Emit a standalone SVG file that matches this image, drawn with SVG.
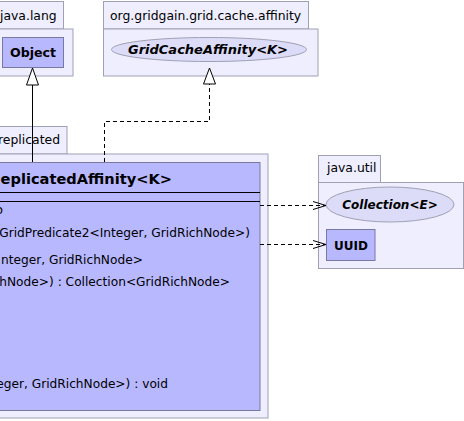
<svg xmlns="http://www.w3.org/2000/svg" width="464" height="421" viewBox="0 0 464 421">
<style>
.pkg{fill:#eeeeff;stroke:#a0a0b4;stroke-width:1}
.cls{fill:#b8b8ff;stroke:#7878a0;stroke-width:1}
.ell{fill:#dcdcf8;stroke:#a0a0b4;stroke-width:1}
.t{font-family:"DejaVu Sans",sans-serif;font-size:12.2px;fill:#000}
.p{font-family:"DejaVu Sans",sans-serif;font-size:12.4px;fill:#000}
.b{font-family:"DejaVu Sans",sans-serif;font-size:12px;font-weight:bold;fill:#000}
.bi{font-family:"DejaVu Sans",sans-serif;font-size:12px;font-weight:bold;font-style:italic;fill:#000}
.ttl{font-family:"DejaVu Sans",sans-serif;font-size:14.6px;font-weight:bold;fill:#000}
.sol{fill:none;stroke:#000;stroke-width:1}
.dash{fill:none;stroke:#000;stroke-width:1;stroke-dasharray:4,3}
</style>
<defs>
<marker id="open" markerWidth="14" markerHeight="10" refX="13" refY="5" orient="auto" markerUnits="userSpaceOnUse">
<path d="M0,1 L13,5 L0,9" fill="none" stroke="#000" stroke-width="1"/>
</marker>
</defs>
<g id="pkg-java-lang">
<rect class="pkg" x="-10" y="1.5" width="73.5" height="27.5"/>
<rect class="pkg" x="-10" y="29" width="83" height="47"/>
<text class="p" x="0" y="20">java.lang</text>
</g>
<g id="Object">
<rect class="cls" x="2.5" y="37.5" width="61" height="30"/>
<text class="b" x="33" y="57" text-anchor="middle" style="font-size:12.6px">Object</text>
</g>
<g id="pkg-affinity">
<rect class="pkg" x="103.5" y="1.5" width="205" height="27.5"/>
<rect class="pkg" x="103.5" y="29" width="214.5" height="47"/>
<text class="p" x="110" y="20">org.gridgain.grid.cache.affinity</text>
</g>
<g id="GridCacheAffinity">
<ellipse class="ell" cx="209" cy="49.5" rx="97.5" ry="12"/>
<text class="bi" x="208" y="54" text-anchor="middle" style="font-size:13px">GridCacheAffinity&lt;K&gt;</text>
</g>
<g id="pkg-replicated">
<rect class="pkg" x="-10" y="126.5" width="77" height="27.5"/>
<rect class="pkg" x="-10" y="154" width="278" height="264"/>
<text class="p" x="60" y="144" text-anchor="end">replicated</text>
</g>
<g id="GridCacheReplicatedAffinity">
<rect class="cls" x="-10" y="162.5" width="270" height="248"/>
<text class="ttl" x="172" y="184" text-anchor="end">eplicatedAffinity&lt;K&gt;</text>
<line class="sol" x1="-10" y1="192.5" x2="260" y2="192.5"/>
<line class="sol" x1="-10" y1="201.5" x2="260" y2="201.5"/>
<text class="t" x="3" y="214" text-anchor="end">o</text>
<text class="t" x="250" y="237" text-anchor="end">GridPredicate2&lt;Integer, GridRichNode&gt;)</text>
<text class="t" x="1" y="264">nteger, GridRichNode&gt;</text>
<text class="t" x="230" y="286" text-anchor="end">chNode&gt;) : Collection&lt;GridRichNode&gt;</text>
<text class="t" x="168" y="388" text-anchor="end">eger, GridRichNode&gt;) : void</text>
</g>
<g id="pkg-java-util">
<rect class="pkg" x="318.5" y="155.5" width="62" height="27"/>
<rect class="pkg" x="318.5" y="182.5" width="145" height="86"/>
<text class="p" x="327" y="172">java.util</text>
</g>
<g id="Collection">
<ellipse class="ell" cx="390" cy="204.5" rx="64" ry="17.5"/>
<text class="bi" x="390" y="209" text-anchor="middle">Collection&lt;E&gt;</text>
</g>
<g id="UUID">
<rect class="cls" x="326.5" y="229.5" width="48.5" height="31"/>
<text class="b" x="351" y="250" text-anchor="middle">UUID</text>
</g>
<g id="connectors">
<line class="sol" x1="32.5" y1="85" x2="32.5" y2="162"/>
<path d="M32.5,68 L26.5,85 L38.5,85 Z" fill="#fff" stroke="#000" stroke-width="1"/>
<path class="dash" d="M104.5,162 L104.5,121.5 L209.5,121.5 L209.5,84"/>
<path d="M209.5,68 L203.5,84 L215.5,84 Z" fill="#fff" stroke="#000" stroke-width="1"/>
<line class="dash" x1="260" y1="205.5" x2="326" y2="205.5" marker-end="url(#open)"/>
<line class="dash" x1="260" y1="244.5" x2="326" y2="244.5" marker-end="url(#open)"/>
</g>
</svg>
